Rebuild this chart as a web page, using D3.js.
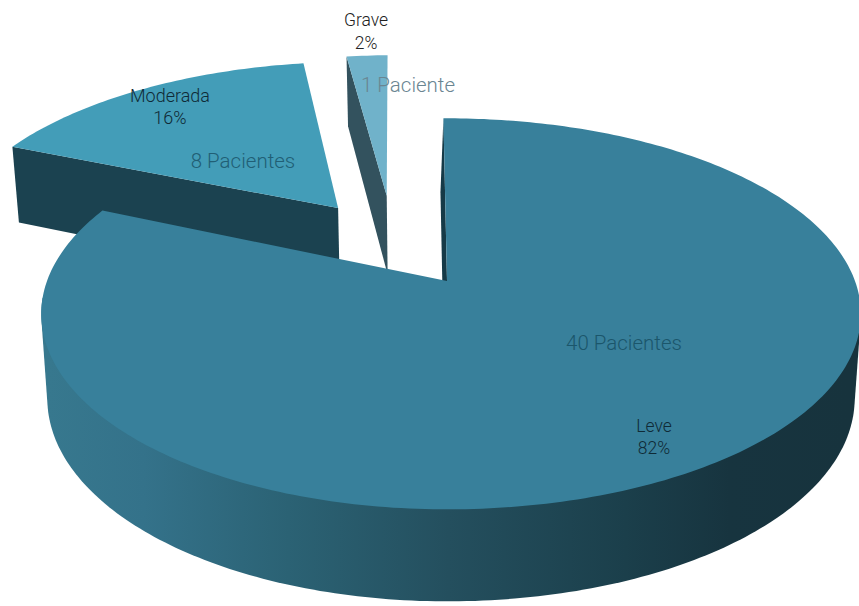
<!DOCTYPE html>
<html><head><meta charset="utf-8">
<script src="https://cdn.jsdelivr.net/npm/d3@7"></script>
<style>html,body{margin:0;padding:0;background:#fff}svg{display:block}text{font-family:Roboto,"Liberation Sans",sans-serif;font-weight:300}</style>
</head><body><svg id="c" width="859" height="606"></svg>
<script>
// Data
const categories = ["Leve", "Moderada", "Grave"];
const patients = [40, 8, 1];
const percents = ["82%", "16%", "2%"];
const patientLabels = ["40 Pacientes", "8 Pacientes", "1 Paciente"];
const topColors = ["#38809b", "#439db8", "#70b2ca"];
const faceColors = ["#163a47", "#1b4250", "#33525e"];
// Slices pulled out of the pie, in plane units (horizontal, depth), their small turn in degrees, and radius factor
const pullU = [0, -0.291, -0.163];
const pullV = [0, -0.410, -0.485];
const turn = [0, -0.7, -0.7];
const reach = [1, 1.02, 1];

// Perspective of the tilted disc
const cx = 447, cy = 281, rxLeft = 400, rxRight = 408, ry = 190, k = 0.168;
function project(u, v, lower) {
  const s = 1 - k * v;
  let x = (u < 0 ? rxLeft : rxRight) * u / s, y = ry * v / s;
  if (lower) { x *= 0.985; y += 83 + 9 * v; }
  return [cx + x, cy + y];
}
const svg = d3.select("#c");
const defs = svg.append("defs");
const grad = defs.append("linearGradient").attr("id", "side")
  .attr("gradientUnits", "userSpaceOnUse")
  .attr("x1", 48).attr("x2", 850).attr("y1", 0).attr("y2", 0);
[[0, "#37788e"], [0.12, "#34728a"], [0.3, "#2b6274"], [0.5, "#244f5e"], [0.72, "#1b3f4b"], [0.85, "#17343f"], [1, "#17333d"]]
  .forEach(s => grad.append("stop").attr("offset", s[0]).attr("stop-color", s[1]));

const tilt = -0.6 * Math.PI / 180;
const pie = d3.pie().sort(null).startAngle(tilt).endAngle(2 * Math.PI + tilt);
const slices = pie(patients);
const line = d3.line();
const rad = Math.PI / 180;

function rimPoint(a, i, lower) {
  const b = a + turn[i] * rad;
  return project(reach[i] * Math.sin(b) + pullU[i], -reach[i] * Math.cos(b) + pullV[i], lower);
}
function arcSamples(a0, a1) {
  const n = Math.max(2, Math.ceil((a1 - a0) * 60));
  return d3.range(n + 1).map(j => a0 + (a1 - a0) * j / n);
}
function topPath(d, i) {
  const pts = arcSamples(d.startAngle, d.endAngle).map(a => rimPoint(a, i, false));
  pts.push(project(pullU[i], pullV[i], false));
  return line(pts) + "Z";
}
function radialFace(d, i) {
  const shift = i === 0 ? -3 : 0;
  const a = d.startAngle;
  const lo = p => [p[0] + shift, p[1]];
  return line([rimPoint(a, i, false), project(pullU[i], pullV[i], false),
    lo(project(pullU[i], pullV[i], true)), lo(rimPoint(a, i, true))]) + "Z";
}
// Wall of the main slice: everything between the two tangents of the rim
function outerSide(i) {
  const as = arcSamples(95 * rad, 265 * rad);
  const pts = as.map(a => rimPoint(a, i, false)).concat(as.map(a => rimPoint(a, i, true)));
  return line(d3.polygonHull(pts)) + "Z";
}

// Back pieces first, main slice last
const g = svg.append("g");
[2, 1, 0].forEach(i => {
  const d = slices[i];
  g.append("path").attr("d", radialFace(d, i)).attr("fill", faceColors[i]);
  if (i === 0) g.append("path").attr("d", outerSide(i)).attr("fill", "url(#side)");
  g.append("path").attr("d", topPath(d, i)).attr("fill", topColors[i]);
});

// Labels
const labelX = [654, 170, 366];
const labelY = [432, 102, 26];
const labelDy = [22, 22, 23];
const labelSize = [17.5, 18, 17.5];
const labelFill = ["#0f2a36", "#0f2a36", "#222"];
const countX = [624, 243, 408];
const countY = [350, 168, 92];
const countSize = [20.5, 20.5, 20.5];
const countFill = ["#1b566b", "#215f75", "#6a8591"];
categories.forEach((c, i) => {
  svg.append("text").attr("x", labelX[i]).attr("y", labelY[i]).attr("text-anchor", "middle")
    .attr("font-size", labelSize[i]).attr("fill", labelFill[i]).text(c);
  svg.append("text").attr("x", labelX[i]).attr("y", labelY[i] + labelDy[i]).attr("text-anchor", "middle")
    .attr("font-size", labelSize[i]).attr("fill", labelFill[i]).text(percents[i]);
  svg.append("text").attr("x", countX[i]).attr("y", countY[i]).attr("text-anchor", "middle")
    .attr("font-size", countSize[i]).attr("fill", countFill[i]).text(patientLabels[i]);
});
</script></body></html>
